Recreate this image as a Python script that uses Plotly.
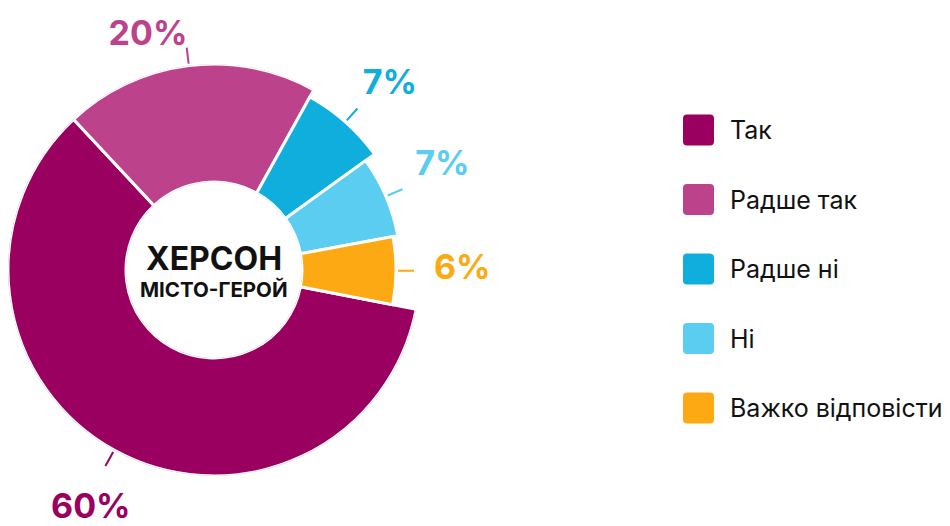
import math
import plotly.graph_objects as go

# Дані опитування
categories = ["Так", "Радше так", "Радше ні", "Ні", "Важко відповісти"]
shares = [60, 20, 7, 7, 6]
pct_labels = ["60%", "20%", "7%", "7%", "6%"]

# Стиль
colors = ["#99005F", "#BC438B", "#0FAEDD", "#5BCDF0", "#FCA913"]
slice_depth = [118, 118, 110, 99, 94]      # висота сектора над отвором, px
label_pos = ["bottom center", "top left", "top right", "top right", "middle right"]
label_gap = [30, -6, 8, 14, 20]            # відступ підпису від кінця виносної лінії, px
start_angle = 101                          # початок першого сектора (за годинниковою, від 12:00)

W, H = 950, 526
PAD = 8                                    # відступ body у сторінці
CX, CY = 214, 270                          # центр кільця на екрані
R_HOLE = 88
R_FULL = CX - PAD                          # радіус полярної області
LEADER = 18

# кути середин секторів та ширини
widths = [s * 3.6 for s in shares]
mids = []
acc = start_angle
for w in widths:
    mids.append((acc + w / 2) % 360)
    acc += w


def to_xy(rad, ang):
    a = math.radians(ang)
    return CX + rad * math.sin(a), CY - rad * math.cos(a)


fig = go.Figure()

fig.add_trace(go.Barpolar(
    r=slice_depth,
    theta=mids,
    width=widths,
    marker=dict(color=colors, line=dict(color="white", width=3)),
    showlegend=False,
    hoverinfo="skip",
))

# виносні лінії та підписи
lab_x, lab_y = [], []
for d, m, c, g in zip(slice_depth, mids, colors, label_gap):
    x0, y0 = to_xy(R_HOLE + d + 2, m)
    x1, y1 = to_xy(R_HOLE + d + LEADER, m)
    fig.add_trace(go.Scatter(
        x=[x0, x1], y=[y0, y1], mode="lines",
        line=dict(color=c, width=2),
        showlegend=False, hoverinfo="skip",
    ))
    tx, ty = to_xy(R_HOLE + d + LEADER + g, m)
    lab_x.append(tx)
    lab_y.append(ty)

fig.add_trace(go.Scatter(
    x=lab_x, y=lab_y, mode="text",
    text=pct_labels, textposition=label_pos,
    textfont=dict(family="Inter", size=34, color=colors, weight=700),
    cliponaxis=False, showlegend=False, hoverinfo="skip",
))

# легенда вручну
shapes = []
annotations = []
for i, (cat, c) in enumerate(zip(categories, colors)):
    yc = 130 + i * 69.5
    x0, x1 = 683, 714
    y0, y1 = yc - 15.5, yc + 15.5
    rr = 4
    path = (f"M{x0 + rr},{y0} L{x1 - rr},{y0} Q{x1},{y0} {x1},{y0 + rr} "
            f"L{x1},{y1 - rr} Q{x1},{y1} {x1 - rr},{y1} L{x0 + rr},{y1} "
            f"Q{x0},{y1} {x0},{y1 - rr} L{x0},{y0 + rr} Q{x0},{y0} {x0 + rr},{y0} Z")
    shapes.append(dict(type="path", path=path, xref="x", yref="y",
                       fillcolor=c, line=dict(width=0), layer="above"))
    annotations.append(dict(x=728, y=yc, xref="x", yref="y", text=cat,
                            showarrow=False, xanchor="left", yanchor="middle",
                            font=dict(family="Inter", size=25, color="#111111")))

# центр
annotations.append(dict(x=CX, y=258, xref="x", yref="y", text="<b>ХЕРСОН</b>",
                        showarrow=False, font=dict(family="Inter", size=32, color="#111111")))
annotations.append(dict(x=CX, y=289, xref="x", yref="y", text="<b>МІСТО-ГЕРОЙ</b>",
                        showarrow=False, font=dict(family="Inter", size=20.5, color="#111111")))

cy_fig = CY - PAD
fig.update_layout(
    width=W, height=H,
    margin=dict(l=0, r=0, t=0, b=0),
    paper_bgcolor="white",
    plot_bgcolor="rgba(0,0,0,0)",
    xaxis=dict(range=[PAD, W + PAD], visible=False, fixedrange=True),
    yaxis=dict(range=[H + PAD, PAD], visible=False, fixedrange=True),
    polar=dict(
        domain=dict(x=[0, 2 * R_FULL / W],
                    y=[(H - cy_fig - R_FULL) / H, (H - cy_fig + R_FULL) / H]),
        hole=R_HOLE / R_FULL,
        bgcolor="rgba(0,0,0,0)",
        radialaxis=dict(range=[0, R_FULL - R_HOLE], visible=False),
        angularaxis=dict(direction="clockwise", rotation=90, visible=False),
    ),
    bargap=0,
    shapes=shapes,
    annotations=annotations,
    showlegend=False,
)

fig.write_html("out.html")
